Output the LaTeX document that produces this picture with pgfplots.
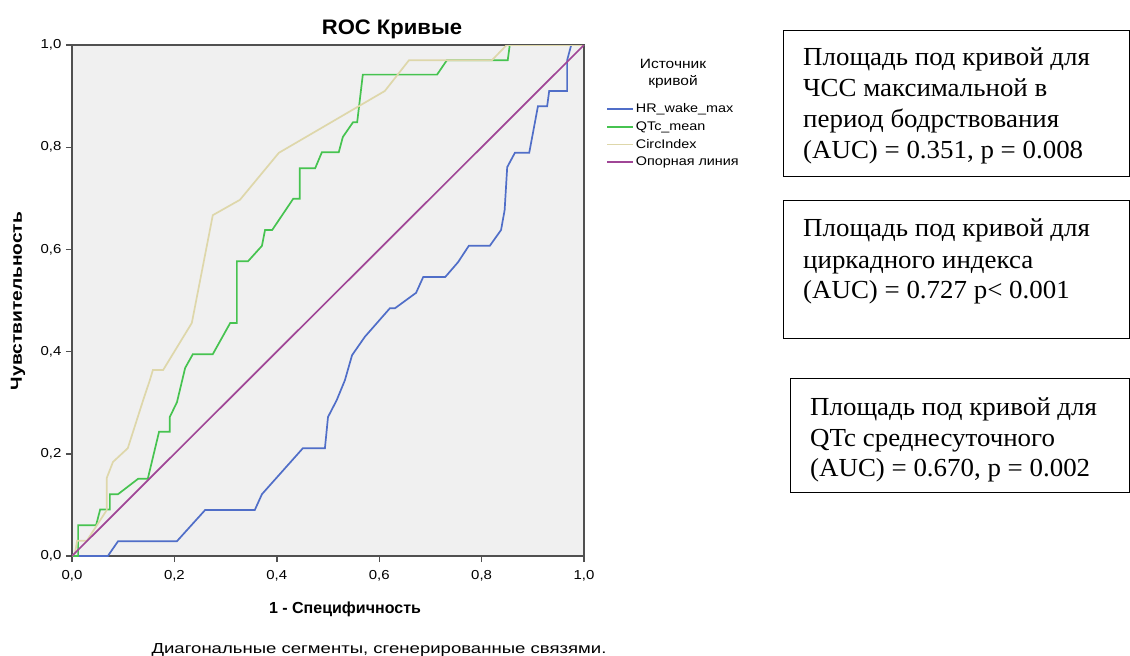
\documentclass[border=0pt]{standalone}
\usepackage{pgfplots}
\pgfplotsset{compat=1.18}
\usepackage{fontspec}
\setmainfont{Liberation Sans}
\newfontfamily\tnr[FakeStretch=1.035]{Liberation Serif}
\newfontfamily\wide[FakeStretch=1.15]{Liberation Sans}
\newfontfamily\widefoot[FakeStretch=1.28]{Liberation Sans}
\newfontfamily\widetitle[FakeStretch=1.05]{Liberation Sans}
\newfontfamily\wideylab[FakeStretch=1.2]{Liberation Sans}
\definecolor{bggray}{RGB}{240,240,240}
\definecolor{axisgray}{RGB}{80,80,80}
\definecolor{cblue}{RGB}{80,110,200}
\definecolor{cgreen}{RGB}{70,195,80}
\definecolor{cbeige}{RGB}{222,215,170}
\definecolor{cpurple}{RGB}{160,70,150}
\begin{document}
\begin{tikzpicture}[x=1pt,y=-1pt]
\useasboundingbox (0,0) rectangle (1130,656);
\begin{axis}[
  at={(72pt,-556pt)}, anchor=south west,
  width=512pt, height=511pt, scale only axis,
  xmin=0, xmax=1, ymin=0, ymax=1,
  axis background/.style={fill=bggray},
  xtick={0,0.2,0.4,0.6,0.8,1}, ytick={0,0.2,0.4,0.6,0.8,1},
  xtick pos=bottom, ytick pos=left,
  tick align=outside, major tick length=6pt,
  tick style={line width=1.4pt, color=axisgray},
  axis line style={line width=1.6pt, color=axisgray},
  /pgf/number format/.cd, fixed, fixed zerofill, precision=1, use comma, assume math mode=true,
  /pgfplots/.cd,
  ticklabel style={font=\wide\fontsize{13}{13}\selectfont},
  xticklabel style={yshift=-5pt},
  yticklabel style={xshift=-1pt},
  legend style={at={(1.043,0.889)}, anchor=north west, draw=none, fill=none,
    font=\wide\fontsize{12.5}{13}\selectfont, row sep=3.2pt, inner sep=0pt,
    nodes={inner sep=2pt}},
  legend cell align=left,
  legend image code/.code={\draw[#1] (0pt,0pt) -- (26pt,0pt);},
  every axis plot/.append style={line width=1.7pt},
]
\addplot[cblue] coordinates {(0,0) (0.07,0) (0.09,0.029) (0.205,0.029) (0.26,0.09) (0.357,0.09) (0.371,0.121) (0.451,0.211) (0.494,0.211) (0.5,0.272) (0.517,0.305) (0.533,0.344) (0.547,0.393) (0.572,0.429) (0.621,0.485) (0.631,0.485) (0.672,0.515) (0.686,0.546) (0.729,0.546) (0.754,0.575) (0.775,0.607) (0.816,0.607) (0.838,0.638) (0.845,0.677) (0.85,0.761) (0.865,0.789) (0.893,0.789) (0.91,0.88) (0.928,0.88) (0.932,0.91) (0.967,0.91) (0.967,0.97) (0.975,1) (1,1)};
\addlegendentry{HR\_wake\_max}
\addplot[cgreen] coordinates {(0,0) (0.012,0) (0.012,0.06) (0.047,0.06) (0.055,0.091) (0.074,0.091) (0.074,0.121) (0.09,0.121) (0.129,0.151) (0.148,0.151) (0.17,0.243) (0.191,0.243) (0.191,0.272) (0.205,0.301) (0.221,0.368) (0.236,0.395) (0.275,0.395) (0.309,0.456) (0.322,0.456) (0.322,0.577) (0.344,0.577) (0.371,0.607) (0.377,0.638) (0.391,0.638) (0.432,0.699) (0.445,0.699) (0.445,0.759) (0.475,0.759) (0.488,0.79) (0.521,0.79) (0.529,0.82) (0.549,0.849) (0.557,0.849) (0.568,0.942) (0.713,0.942) (0.732,0.97) (0.851,0.97) (0.855,1) (1,1)};
\addlegendentry{QTc\_mean}
\addplot[cbeige] coordinates {(0,0) (0.006,0.006) (0.01,0.03) (0.029,0.03) (0.068,0.09) (0.068,0.153) (0.08,0.184) (0.109,0.211) (0.139,0.305) (0.152,0.344) (0.158,0.364) (0.178,0.364) (0.234,0.456) (0.275,0.667) (0.328,0.697) (0.404,0.789) (0.611,0.91) (0.658,0.97) (0.82,0.97) (0.849,1) (1,1)};
\addlegendentry{CircIndex}
\addplot[cpurple] coordinates {(0,0) (1,1)};
\addlegendentry{Опорная линия}
\end{axis}
% titles and labels
\node[anchor=base, font=\widetitle\fontsize{21}{21}\selectfont\bfseries] at (392,34) {ROC Кривые};
\node[anchor=base, font=\fontsize{16}{16}\selectfont\bfseries] at (345,613) {1 - Специфичность};
\node[rotate=90, font=\wideylab\fontsize{16}{16}\selectfont\bfseries] at (18,301) {Чувствительность};
\node[anchor=base, font=\widefoot\fontsize{14.5}{15}\selectfont] at (379,653) {Диагональные сегменты, сгенерированные связями.};
\node[anchor=base, font=\wide\fontsize{13.5}{14}\selectfont] at (673,68) {Источник};
\node[anchor=base, font=\wide\fontsize{13.5}{14}\selectfont] at (673,85) {кривой};
% text boxes
\draw[line width=0.9pt] (783,30) rectangle (1129,176);
\draw[line width=0.9pt] (783,200) rectangle (1129,338);
\draw[line width=0.9pt] (790,378) rectangle (1129,492);
\begin{scope}[every node/.style={anchor=base west, inner sep=0pt, font=\tnr\fontsize{26}{26}\selectfont}]
\node at (803,65) {Площадь под кривой для};
\node at (803,96) {ЧСС максимальной в};
\node at (803,127) {период бодрствования};
\node at (803,158) {(AUC) = 0.351, p = 0.008};
\node at (803,236) {Площадь под кривой для};
\node at (803,268) {циркадного индекса};
\node at (803,298) {(AUC) = 0.727 p< 0.001};
\node at (810,415) {Площадь под кривой для};
\node at (810,446) {QTc среднесуточного};
\node at (810,476) {(AUC) = 0.670, p = 0.002};
\end{scope}
\end{tikzpicture}
\end{document}
